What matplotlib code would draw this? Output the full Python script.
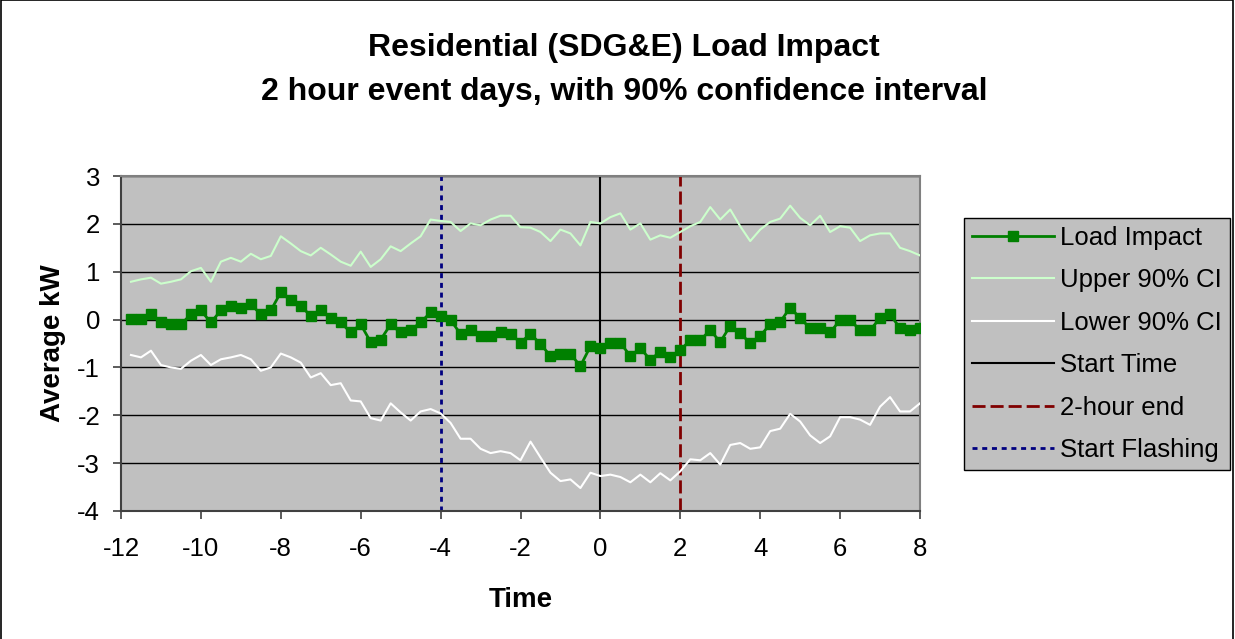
import numpy as np
import matplotlib
matplotlib.use("Agg")
import matplotlib.pyplot as plt
from matplotlib.patches import Rectangle

plt.rcParams['font.family'] = ['Liberation Sans', 'DejaVu Sans']

# Time (hours relative to event start), 15-minute intervals
time = np.arange(-11.75, 8.01, 0.25)

load_impact = [0.01, 0.01, 0.11, -0.06, -0.10, -0.10, 0.11, 0.19, -0.06, 0.19,
               0.28, 0.24, 0.32, 0.11, 0.19, 0.57, 0.40, 0.28, 0.08, 0.19,
               0.03, -0.06, -0.27, -0.10, -0.47, -0.42, -0.10, -0.27, -0.22, -0.06,
               0.15, 0.08, -0.01, -0.30, -0.22, -0.34, -0.34, -0.26, -0.30, -0.48,
               -0.30, -0.51, -0.76, -0.72, -0.72, -0.97, -0.56, -0.60, -0.49, -0.49,
               -0.76, -0.60, -0.84, -0.67, -0.79, -0.64, -0.43, -0.43, -0.22, -0.47,
               -0.13, -0.29, -0.49, -0.34, -0.10, -0.05, 0.25, 0.03, -0.18, -0.18,
               -0.27, -0.01, -0.01, -0.22, -0.22, 0.03, 0.11, -0.18, -0.22, -0.18]

upper_ci = [0.79, 0.84, 0.875, 0.75, 0.79, 0.84, 1.01, 1.08, 0.79, 1.21,
            1.29, 1.21, 1.375, 1.26, 1.33, 1.74, 1.59, 1.43, 1.34, 1.50,
            1.36, 1.21, 1.125, 1.42, 1.10, 1.26, 1.53, 1.43, 1.59, 1.74,
            2.09, 2.06, 2.04, 1.85, 2.01, 1.97, 2.09, 2.17, 2.17, 1.93,
            1.92, 1.83, 1.64, 1.88, 1.80, 1.55, 2.04, 2.01, 2.14, 2.22,
            1.88, 2.01, 1.67, 1.76, 1.71, 1.83, 1.95, 2.04, 2.35, 2.09,
            2.30, 1.95, 1.64, 1.88, 2.04, 2.11, 2.38, 2.125, 1.97, 2.17,
            1.83, 1.95, 1.92, 1.64, 1.76, 1.80, 1.80, 1.50, 1.43, 1.34]

lower_ci = [-0.74, -0.79, -0.65, -0.95, -1.00, -1.03, -0.86, -0.74, -0.95, -0.83,
            -0.79, -0.74, -0.83, -1.07, -1.00, -0.71, -0.79, -0.90, -1.21, -1.12,
            -1.37, -1.33, -1.69, -1.71, -2.06, -2.11, -1.75, -1.94, -2.11, -1.92,
            -1.87, -1.96, -2.16, -2.49, -2.49, -2.70, -2.79, -2.75, -2.79, -2.94,
            -2.55, -2.88, -3.20, -3.375, -3.34, -3.52, -3.20, -3.27, -3.24, -3.29,
            -3.40, -3.24, -3.40, -3.21, -3.36, -3.17, -2.92, -2.94, -2.79, -3.03,
            -2.62, -2.58, -2.70, -2.67, -2.33, -2.28, -1.97, -2.13, -2.42, -2.58,
            -2.44, -2.04, -2.04, -2.09, -2.20, -1.82, -1.62, -1.92, -1.92, -1.75]

start_time = 0
two_hour_end = 2
start_flashing = -4

x_ticks = [-12, -10, -8, -6, -4, -2, 0, 2, 4, 6, 8]
y_ticks = [3, 2, 1, 0, -1, -2, -3, -4]

W, H = 1235, 639
fig = plt.figure(figsize=(W / 100, H / 100), dpi=100)
fig.patch.set_facecolor('white')

ax = fig.add_axes([121 / W, (H - 511) / H, 799 / W, 335 / H])
ax.set_facecolor('#C0C0C0')

for yv in y_ticks:
    ax.axhline(yv, color='black', lw=1.0, zorder=1)

ax.plot(time, upper_ci, color='#CCFFCC', lw=1.5, label='Upper 90% CI', zorder=3)
ax.plot(time, lower_ci, color='white', lw=1.5, label='Lower 90% CI', zorder=3)
ax.plot(time, load_impact, color='#008000', lw=2, marker='s', markersize=7.8,
        markerfacecolor='#008000', markeredgecolor='#008000',
        label='Load Impact', zorder=4)
ax.axvline(start_time, color='black', lw=1.5, label='Start Time', zorder=2)
ax.axvline(two_hour_end, color='#800000', lw=2.0, ls=(0, (4.7, 1.8)),
           label='2-hour end', zorder=2)
ax.axvline(start_flashing, color='#000080', lw=2, ls=(0, (1.8, 1.7)),
           label='Start Flashing', zorder=2)

ax.set_xlim(-12, 8)
ax.set_ylim(-4, 3)
ax.set_xticks(x_ticks)
ax.set_yticks(y_ticks)
ax.set_xticklabels([str(v) for v in x_ticks])
ax.set_yticklabels([str(v) for v in y_ticks])
ax.tick_params(axis='both', direction='out', length=6, width=1.2,
               color='#404040', labelsize=18.5)
ax.tick_params(axis='x', pad=13)
ax.tick_params(axis='y', pad=9)

for side in ['top', 'right']:
    ax.spines[side].set_color('#808080')
    ax.spines[side].set_linewidth(1.5)
for side in ['left', 'bottom']:
    ax.spines[side].set_color('#404040')
    ax.spines[side].set_linewidth(1.5)

ax.set_xlabel('Time', fontsize=20, fontweight='bold', labelpad=18.5)
ax.set_ylabel('Average kW', fontsize=20, fontweight='bold', labelpad=8)

fig.text(624 / W, 1 - 48 / H, 'Residential (SDG&E) Load Impact',
         ha='center', va='center', fontsize=23, fontweight='bold')
fig.text(624 / W, 1 - 92 / H, '2 hour event days, with 90% confidence interval',
         ha='center', va='center', fontsize=23, fontweight='bold')

handles, labels = ax.get_legend_handles_labels()
order = ['Load Impact', 'Upper 90% CI', 'Lower 90% CI', 'Start Time',
         '2-hour end', 'Start Flashing']
hmap = dict(zip(labels, handles))
leg = fig.legend([hmap[l] for l in order], order, loc='upper left',
                 bbox_to_anchor=(964 / W, 1 - 218 / H), fontsize=18.5,
                 frameon=True, fancybox=False, facecolor='#C0C0C0',
                 edgecolor='black', framealpha=1, handlelength=3.2,
                 handletextpad=0.25, labelspacing=0.72, borderpad=0.3,
                 borderaxespad=0, markerscale=1.0)
leg.get_frame().set_linewidth(1.0)

fig.add_artist(Rectangle((0.5 / W, -0.01), 1 - 2.5 / W, 1.01 - 0.5 / H,
                         transform=fig.transFigure, fill=False,
                         edgecolor='black', lw=1.2))

fig.savefig('out.png', dpi=100, facecolor='white')
